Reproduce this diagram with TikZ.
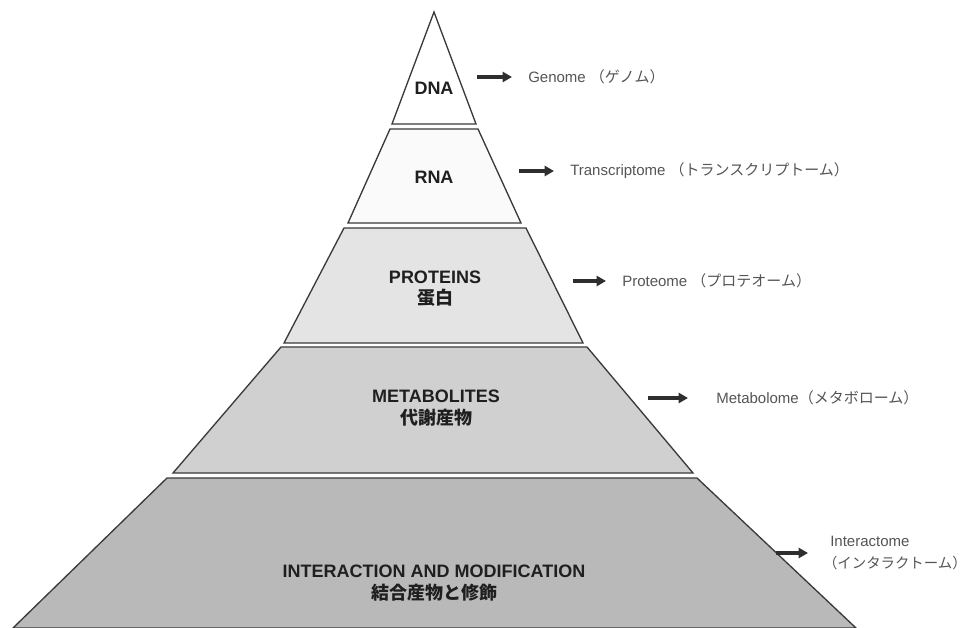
\documentclass[tikz,border=0pt]{standalone}
\usepackage{fontspec}
\setmainfont{Liberation Sans}
\newfontfamily\jpfont{Noto Sans CJK JP}
\usepackage{tikz}
\usetikzlibrary{arrows.meta}

\definecolor{tierline}{HTML}{3A3A3A}
\definecolor{omegray}{HTML}{555555}
\definecolor{tierA}{HTML}{FFFFFF}
\definecolor{tierB}{HTML}{FAFAFA}
\definecolor{tierC}{HTML}{E4E4E4}
\definecolor{tierD}{HTML}{D0D0D0}
\definecolor{tierE}{HTML}{B9B9B9}

\begin{document}
\begin{tikzpicture}[
    x=0.75pt, y=-0.75pt,
    tier/.style={draw=tierline, line width=1pt, line join=miter},
    lvl/.style={font=\fontsize{13.5}{16}\selectfont\bfseries, text=black!88, align=center},
    ome/.style={font=\fontsize{11.25}{17}\selectfont, text=omegray, anchor=west, align=left, inner sep=0pt},
    arr/.style={-{Triangle[length=7pt,width=7.5pt]}, line width=2.3pt, draw=black!82, shorten >=12pt},
]
  \useasboundingbox (0,0) rectangle (968,628);
  \fill[white] (0,0) rectangle (968,628);

  \filldraw[tier, fill=tierA] (434,12) -- (476,124) -- (392,124) -- cycle;
  \filldraw[tier, fill=tierB] (390,129) -- (478,129) -- (521,223) -- (348,223) -- cycle;
  \filldraw[tier, fill=tierC] (344,228) -- (526,228) -- (583,343) -- (284,343) -- cycle;
  \filldraw[tier, fill=tierD] (281,347) -- (587,347) -- (693,473) -- (173,473) -- cycle;
  \filldraw[tier, fill=tierE] (167,478) -- (697,478) -- (856,628) -- (13,628) -- cycle;

  \node[lvl] (dna) at (434,88) {DNA};
  \node[lvl] (rna) at (434,177) {RNA};
  \node[lvl] (prot) at (435,289) {PROTEINS\\{\jpfont 蛋白}};
  \node[lvl] (meta) at (436,408) {METABOLITES\\{\jpfont 代謝産物}};
  \node[lvl] (inter) at (434,583) {INTERACTION AND MODIFICATION\\{\jpfont 結合産物と修飾}};

  \node[ome] (genome) at (528,77) {Genome {\jpfont （ゲノム）}};
  \node[ome] (transcr) at (570,171) {Transcriptome {\jpfont （トランスクリプトーム）}};
  \node[ome] (proteome) at (622,281) {Proteome {\jpfont （プロテオーム）}};
  \node[ome] (metabolome) at (716,398) {Metabolome{\jpfont （メタボローム）}};
  \node[ome] (interactome) at (830,553) {Interactome\\{\jpfont\fontsize{10.8}{17}\selectfont\hspace{-0.5em}（インタラクトーム）}};

  \coordinate (t1) at (477,77);
  \coordinate (t2) at (519,171);
  \coordinate (t3) at (573,281);
  \coordinate (t4) at (648,398);
  \coordinate (t5) at (776,553);

  \draw[arr] (t1) -- (genome);
  \draw[arr] (t2) -- (transcr);
  \draw[arr] (t3) -- (proteome);
  \draw[arr, shorten >=21pt] (t4) -- (metabolome);
  \draw[arr, shorten >=16.5pt] (t5) -- (interactome);
\end{tikzpicture}
\end{document}
